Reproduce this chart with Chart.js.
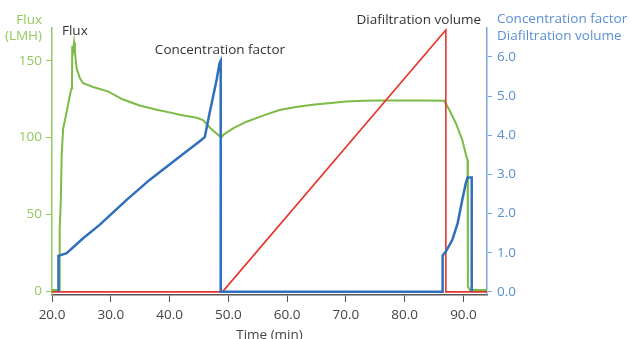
<!DOCTYPE html>
<html>
<head>
<meta charset="utf-8">
<script src="https://cdn.jsdelivr.net/npm/chart.js@4.4.0/dist/chart.umd.min.js"></script>
<style>
  html, body { margin: 0; padding: 0; background: #fff; }
  #wrap { width: 630px; height: 339px; position: relative; }
</style>
</head>
<body>
<div id="wrap"><canvas id="chart" width="630" height="339"></canvas></div>
<script>
// flux (LMH), left axis
var fluxTime = [20, 21.2, 21.25, 21.36, 21.5, 21.65, 21.9, 22.5, 23.06, 23.3, 23.4, 23.45, 23.6, 23.75, 23.9, 24.0, 24.2, 24.75, 25.3, 27, 29.6, 32, 34.9, 38, 40.6, 41.7, 44.6, 45.7, 47, 48.5, 48.8, 49.2, 50.8, 53.1, 56, 58.7, 61.5, 64.3, 67, 70, 73, 75.7, 80, 83, 86.7, 87.6, 88.7, 89.8, 90.5, 90.7, 90.75, 91.1, 94];
var fluxValues = [0.7, 0.7, 20, 40, 59, 89, 106, 117, 128, 132, 135, 160, 157, 162, 156, 152, 145, 138.7, 135.5, 133, 130, 125, 121, 118, 116, 115, 113, 111.5, 106, 101, 100, 102, 106, 110.4, 114.5, 118, 120, 121.5, 122.5, 123.5, 124, 124.3, 124.3, 124.3, 124.1, 118, 109.4, 98.5, 87.6, 85.5, 3, 0.7, 0.7];

// concentration factor, right axis
var cfTime = [21.1, 21.1, 22.5, 25.3, 28.1, 32.7, 36.6, 41.7, 45.4, 46.0, 46.8, 48.0, 48.5, 48.7, 48.7, 86.45, 86.45, 87.0, 88.1, 89.0, 89.8, 90.4, 90.7, 91.4, 91.4];
var cfValues = [0, 0.92, 0.99, 1.37, 1.71, 2.35, 2.86, 3.45, 3.88, 3.96, 4.56, 5.41, 5.84, 5.9, 0, 0, 0.93, 1.03, 1.33, 1.75, 2.35, 2.78, 2.92, 2.92, 0];

// diafiltration volume, right axis
var dvTime = [20, 49.0, 87.0, 87.0, 94];
var dvValues = [0, 0, 6.69, 0, 0];

var xTicks = [20, 30, 40, 50, 60, 70, 80, 90];
var fluxTicks = [0, 50, 100, 150];
var rightTicks = [0, 1, 2, 3, 4, 5, 6];

var GREEN = "#7cbb45", GREEN_TXT = "#94c95f";
var BLUE = "#2f6fbd", BLUE_TXT = "#5b8fd3", BLUE_AXIS = "#7aa6dc";
var RED = "#e8332b";
var DARK = "#444";
var FONT = "'Open Sans', sans-serif";
var SIZE = 13.5;

function pts(xs, ys) {
    return xs.map(function(x, i) { return { x: x, y: ys[i] }; });
}
function fixTicks(list) {
    return function(scale) { scale.ticks = list.map(function(v) { return { value: v }; }); };
}

var labelsPlugin = {
    id: "labels",
    afterDraw: function(chart) {
        var ctx = chart.ctx, x = chart.scales.x, y = chart.scales.y;
        ctx.save();
        ctx.font = SIZE + "px " + FONT;
        ctx.textBaseline = "middle";
        // left axis title
        ctx.fillStyle = GREEN_TXT;
        ctx.textAlign = "right";
        ctx.fillText("Flux", 42, 20);
        ctx.fillText("(LMH)", 42, 36);
        // right axis title
        ctx.fillStyle = BLUE_TXT;
        ctx.textAlign = "left";
        ctx.fillText("Concentration factor", 497, 19);
        ctx.fillText("Diafiltration volume", 497, 36);
        // x title
        ctx.fillStyle = DARK;
        ctx.textAlign = "center";
        ctx.fillText("Time (min)", (chart.chartArea.left + chart.chartArea.right) / 2, 335);
        // series labels
        ctx.textAlign = "left";
        ctx.fillStyle = "#333";
        ctx.fillText("Flux", x.getPixelForValue(21.7), y.getPixelForValue(169.6));
        ctx.fillText("Concentration factor", x.getPixelForValue(37.5), y.getPixelForValue(157));
        ctx.fillText("Diafiltration volume", x.getPixelForValue(71.8), y.getPixelForValue(176.8));
        ctx.restore();
    }
};

new Chart(document.getElementById("chart").getContext("2d"), {
    type: "line",
    data: {
        datasets: [
            { label: "Flux", data: pts(fluxTime, fluxValues), yAxisID: "y", borderColor: GREEN, borderWidth: 2, order: 3 },
            { label: "Diafiltration volume", data: pts(dvTime, dvValues), yAxisID: "y2", borderColor: RED, borderWidth: 1.6, order: 2 },
            { label: "Concentration factor", data: pts(cfTime, cfValues), yAxisID: "y2", borderColor: BLUE, borderWidth: 2.5, order: 1 }
        ]
    },
    options: {
        responsive: false,
        animation: false,
        elements: { point: { radius: 0 }, line: { tension: 0, fill: false } },
        layout: { padding: { top: 28, left: 0, right: 0, bottom: 0 } },
        plugins: { legend: { display: false }, tooltip: { enabled: false } },
        scales: {
            x: {
                type: "linear", position: "bottom", min: 20, max: 94,
                afterBuildTicks: fixTicks(xTicks),
                afterFit: function(s) { s.height = 44; },
                border: { display: true, color: "#555", width: 1.5 },
                grid: { drawOnChartArea: false, drawTicks: true, tickLength: 7, color: "#555" },
                ticks: { color: DARK, font: { family: FONT, size: SIZE }, padding: 5, maxRotation: 0,
                    callback: function(v) { return v.toFixed(1); } }
            },
            y: {
                type: "linear", position: "left", min: -2.6, max: 171.5,
                afterBuildTicks: fixTicks(fluxTicks),
                afterFit: function(s) { s.width = 52; },
                border: { display: true, color: GREEN_TXT, width: 1.5 },
                grid: { drawOnChartArea: false, drawTicks: true, tickLength: 6, color: GREEN_TXT },
                ticks: { color: GREEN_TXT, font: { family: FONT, size: SIZE }, padding: 4 }
            },
            y2: {
                type: "linear", position: "right", min: -0.08, max: 6.74,
                afterBuildTicks: fixTicks(rightTicks),
                afterFit: function(s) { s.width = 143; },
                border: { display: true, color: BLUE_AXIS, width: 1.5 },
                grid: { drawOnChartArea: false, drawTicks: true, tickLength: 5, color: BLUE_AXIS },
                ticks: { color: BLUE_TXT, font: { family: FONT, size: SIZE }, padding: 5,
                    callback: function(v) { return v.toFixed(1); } }
            }
        }
    },
    plugins: [labelsPlugin]
});
</script>
</body>
</html>
